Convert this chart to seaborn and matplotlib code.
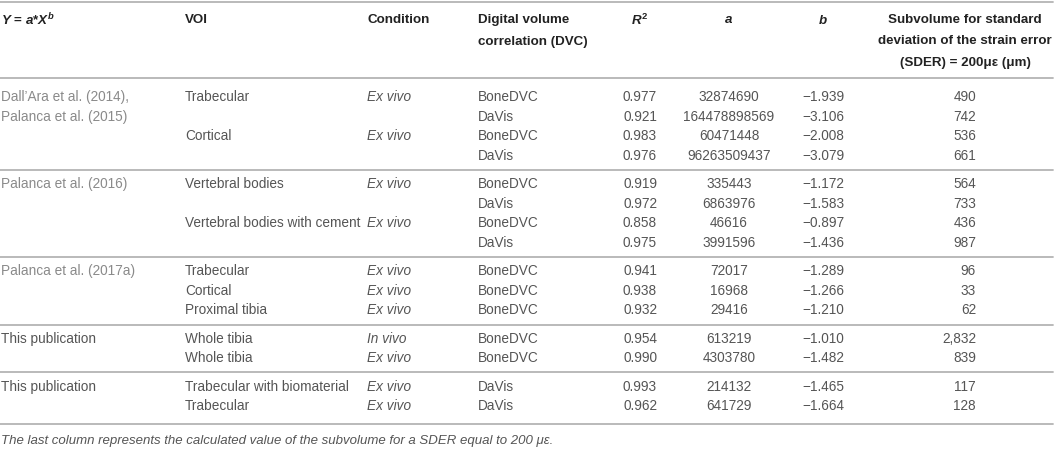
import matplotlib
matplotlib.use("Agg")
import matplotlib.pyplot as plt
import seaborn as sns

# table data
refs = ["Dall\u2019Ara et al. (2014),\nPalanca et al. (2015)", "Palanca et al. (2016)",
        "Palanca et al. (2017a)", "This publication", "This publication"]
group_sizes = [4, 4, 3, 2, 2]
voi = ["Trabecular", "", "Cortical", "", "Vertebral bodies", "", "Vertebral bodies with cement", "",
       "Trabecular", "Cortical", "Proximal tibia", "Whole tibia", "Whole tibia",
       "Trabecular with biomaterial", "Trabecular"]
condition = ["Ex vivo", "", "Ex vivo", "", "Ex vivo", "", "Ex vivo", "",
             "Ex vivo", "Ex vivo", "Ex vivo", "In vivo", "Ex vivo", "Ex vivo", "Ex vivo"]
dvc = ["BoneDVC", "DaVis", "BoneDVC", "DaVis", "BoneDVC", "DaVis", "BoneDVC", "DaVis",
       "BoneDVC", "BoneDVC", "BoneDVC", "BoneDVC", "BoneDVC", "DaVis", "DaVis"]
r2 = [0.977, 0.921, 0.983, 0.976, 0.919, 0.972, 0.858, 0.975, 0.941, 0.938, 0.932, 0.954, 0.990, 0.993, 0.962]
a_vals = [32874690, 164478898569, 60471448, 96263509437, 335443, 6863976, 46616, 3991596,
          72017, 16968, 29416, 613219, 4303780, 214132, 641729]
b_vals = [-1.939, -3.106, -2.008, -3.079, -1.172, -1.583, -0.897, -1.436,
          -1.289, -1.266, -1.210, -1.010, -1.482, -1.465, -1.664]
subvol = [490, 742, 536, 661, 564, 733, 436, 987, 96, 33, 62, 2832, 839, 117, 128]

headers = [r"$Y$ = $a$*$X^{b}$", "VOI", "Condition", "Digital volume\ncorrelation (DVC)",
           r"$R^{2}$", r"$a$", r"$b$",
           "Subvolume for standard\ndeviation of the strain error\n(SDER) = 200\u03bc\u03b5 (\u03bcm)"]
footnote = "The last column represents the calculated value of the subvolume for a SDER equal to 200 \u03bc\u03b5."

sns.set_theme(style="white")
plt.rcParams['font.family'] = ['Liberation Sans', 'DejaVu Sans']
plt.rcParams['mathtext.fontset'] = 'custom'
plt.rcParams['mathtext.it'] = 'Liberation Sans:italic:bold'
plt.rcParams['mathtext.rm'] = 'Liberation Sans:bold'
plt.rcParams['mathtext.bf'] = 'Liberation Sans:bold'

fig = plt.figure(figsize=(10.55, 4.49), dpi=100)
ax = fig.add_axes([0, 0, 1, 1])
ax.set_xlim(0, 1055)
ax.set_ylim(449, 0)
ax.axis("off")

fs = 9.8
hfs = 9.6
txt = "#555555"
ref_col = "#8a8a8a"
head_col = "#222222"
rule = "#b4b4b4"

# column anchors (x, ha)
cols = [(1, "left"), (185, "left"), (367, "left"), (478, "left"),
        (640, "center"), (729, "center"), (823, "center"), (965, "center")]
sub_right = 976

# header
head_y0, head_step = 20, 21.5
for (x, ha), h in zip(cols, headers):
    for k, line in enumerate(h.split("\n")):
        ax.text(x, head_y0 + k * head_step, line, ha=ha, va="center", fontsize=hfs,
                fontweight="bold", color=head_col)

ax.axhline(2, color=rule, lw=1.3, xmax=1053 / 1055)
ax.axhline(78, color=rule, lw=1.3, xmax=1053 / 1055)

# body rows
row0, pitch, gap = 97, 19.6, 8.7
row_y = []
for g, n in enumerate(group_sizes):
    for _ in range(n):
        i = len(row_y)
        row_y.append(row0 + i * pitch + g * gap)

start = 0
for g, n in enumerate(group_sizes):
    color = ref_col if refs[g] != "This publication" else txt
    for k, line in enumerate(refs[g].split("\n")):
        ax.text(cols[0][0], row_y[start + k], line, ha="left", va="center", fontsize=fs, color=color)
    last = row_y[start + n - 1]
    if g < len(group_sizes) - 1:
        y_line = (last + row_y[start + n]) / 2
    else:
        y_line = last + 18
    ax.axhline(y_line, color=rule, lw=1.3, xmax=1053 / 1055)
    start += n

for i, y in enumerate(row_y):
    ax.text(cols[1][0], y, voi[i], ha="left", va="center", fontsize=fs, color=txt)
    ax.text(cols[2][0], y, condition[i], ha="left", va="center", fontsize=fs, color=txt, style="italic")
    ax.text(cols[3][0], y, dvc[i], ha="left", va="center", fontsize=fs, color=txt)
    ax.text(cols[4][0], y, f"{r2[i]:.3f}", ha="center", va="center", fontsize=fs, color=txt)
    ax.text(cols[5][0], y, f"{a_vals[i]}", ha="center", va="center", fontsize=fs, color=txt)
    ax.text(cols[6][0], y, f"{b_vals[i]:.3f}".replace("-", "\u2212"), ha="center", va="center",
            fontsize=fs, color=txt)
    ax.text(sub_right, y, f"{subvol[i]:,}", ha="right", va="center", fontsize=fs, color=txt)

ax.text(1, 441, footnote, ha="left", va="center", fontsize=9.5, color=txt, style="italic")

fig.savefig("out.png", dpi=100)
